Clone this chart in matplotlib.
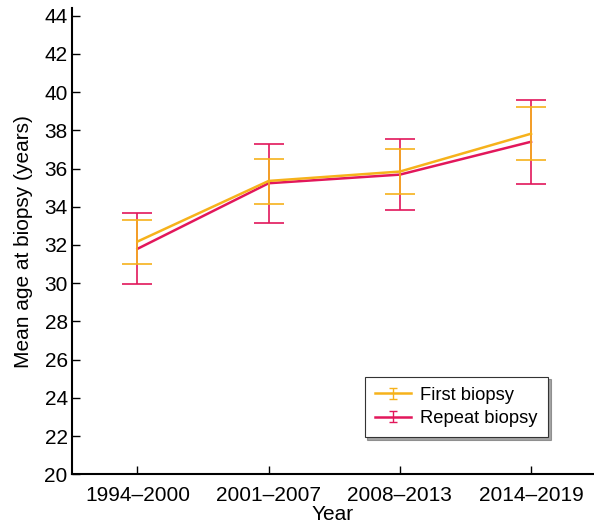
import matplotlib
matplotlib.use("Agg")
import matplotlib.pyplot as plt
from matplotlib.legend_handler import HandlerErrorbar
import numpy as np

plt.rcParams['font.family'] = ['Liberation Sans', 'DejaVu Sans']

periods = ['1994–2000', '2001–2007', '2008–2013', '2014–2019']
first_mean = [32.18, 35.35, 35.84, 37.82]
first_low = [31.03, 34.15, 34.66, 36.43]
first_high = [33.30, 36.49, 37.02, 39.23]
repeat_mean = [31.80, 35.23, 35.68, 37.40]
repeat_low = [29.94, 33.14, 33.84, 35.21]
repeat_high = [33.67, 37.30, 37.53, 39.60]

orange = '#f6b21b'
pink = '#e2175b'

x = np.arange(len(periods))
fig = plt.figure(figsize=(5.94, 5.26), dpi=100)
ax = fig.add_axes([0.121, 0.098, 0.879, 0.887])

fm = np.array(first_mean)
rm = np.array(repeat_mean)
ax.errorbar(x, fm, yerr=[fm - np.array(first_low), np.array(first_high) - fm],
            color=orange, lw=1.8, elinewidth=1.2, capsize=11, capthick=1.2,
            zorder=3)
ax.errorbar(x, rm, yerr=[rm - np.array(repeat_low), np.array(repeat_high) - rm],
            color=pink, lw=1.8, elinewidth=1.2, capsize=11, capthick=1.2,
            zorder=2)

# small-cap proxies for the legend
h1 = ax.errorbar([np.nan], [np.nan], yerr=[1], color=orange, lw=1.8,
                 elinewidth=1, capsize=3, capthick=1)
h2 = ax.errorbar([np.nan], [np.nan], yerr=[1], color=pink, lw=1.8,
                 elinewidth=1, capsize=3, capthick=1)

ax.set_xlim(-0.5, 3.48)
ax.set_ylim(20, 44.4)
ax.set_yticks(range(20, 45, 2))
ax.set_xticks(x)
ax.set_xticklabels(periods)
ax.tick_params(direction='in', labelsize=15, length=6, width=1, colors='black')
ax.tick_params(axis='y', pad=3)
ax.tick_params(axis='x', pad=8)
for s in ['top', 'right']:
    ax.spines[s].set_visible(False)
for s in ['left', 'bottom']:
    ax.spines[s].set_linewidth(1.5)

ax.set_xlabel('Year', fontsize=15, labelpad=0)
ax.set_ylabel('Mean age at biopsy (years)', fontsize=15, labelpad=8)

leg = ax.legend([h1, h2], ['First biopsy', 'Repeat biopsy'],
                loc='lower right', bbox_to_anchor=(0.912, 0.08), fontsize=13.2,
                fancybox=False, shadow=True, edgecolor='#333333',
                handlelength=2.0, borderpad=0.55, labelspacing=0.35,
                handletextpad=0.5, borderaxespad=0,
                handler_map={type(h1): HandlerErrorbar(yerr_size=0.3)})
leg.get_frame().set_linewidth(0.8)

fig.savefig('out.png', dpi=100)
